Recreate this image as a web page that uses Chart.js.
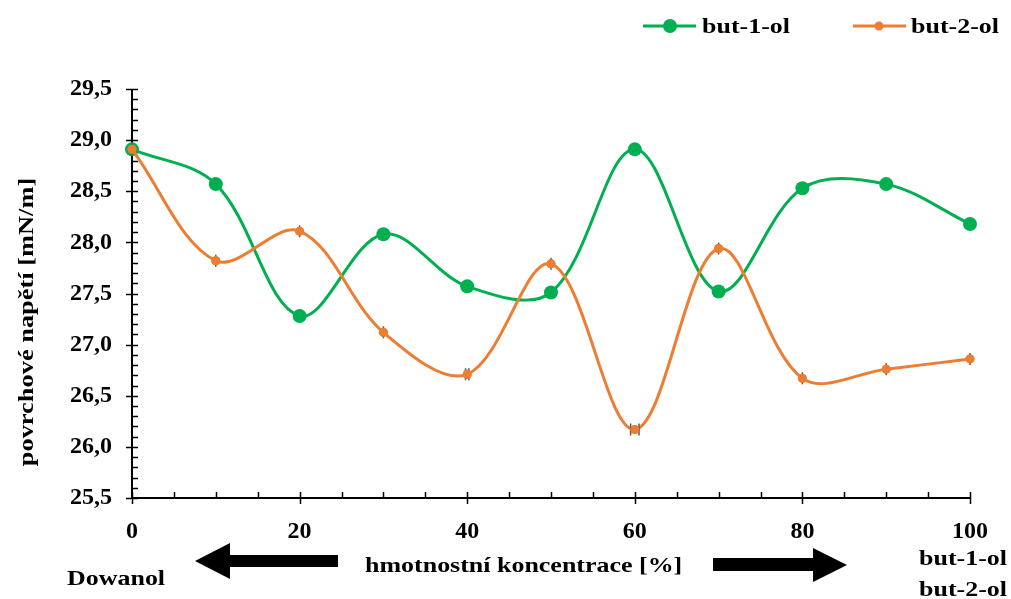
<!DOCTYPE html>
<html lang="cs">

<head>
    <meta charset="UTF-8">
    <meta name="viewport" content="width=device-width, initial-scale=1.0">
    <title>Povrchové napětí - butanoly</title>
    <script src="https://cdn.jsdelivr.net/npm/chart.js@4.4.1/dist/chart.umd.min.js"></script>
    <style>
        body {
            margin: 0;
            background: #fff;
        }

        .wrap {
            position: relative;
            width: 1011px;
            height: 599px;
        }

        .wrap svg {
            position: absolute;
            left: 0;
            top: 0;
            pointer-events: none;
        }

        .lbl {
            position: absolute;
            font: bold 22px "Liberation Serif", "Times New Roman", serif;
            line-height: 22px;
            white-space: nowrap;
            color: #000;
            transform-origin: 0 50%;
            transform: scaleX(1.18);
        }

        .ytitle {
            left: 26px;
            top: 322px;
            transform-origin: 50% 50%;
            transform: translate(-50%, -50%) rotate(-90deg) scaleX(1.2);
        }
    </style>
</head>

<body>
    <div class="wrap">
        <canvas id="chart" width="1011" height="599"></canvas>

        <!-- legend, arrows -->
        <svg width="1011" height="599">
            <line x1="643" y1="26" x2="696" y2="26" stroke="#00B050" stroke-width="3" />
            <circle cx="670" cy="26" r="7" fill="#00B050" />
            <line x1="853" y1="26" x2="906" y2="26" stroke="#ED7D31" stroke-width="3" />
            <circle cx="879" cy="26" r="4.5" fill="#ED7D31" />
            <polygon points="195,561 230,543 230,555 338,555 338,567 230,567 230,579" fill="#000" />
            <polygon points="713,558 813,558 813,548 847,565 813,582 813,571 713,571" fill="#000" />
        </svg>

        <div class="lbl" style="left:702px; top:15px;">but-1-ol</div>
        <div class="lbl" style="left:911px; top:15px;">but-2-ol</div>
        <div class="lbl ytitle">povrchové napětí [mN/m]</div>
        <div class="lbl" style="left:365px; top:554px;">hmotnostní koncentrace [%]</div>
        <div class="lbl" style="left:67px; top:567px;">Dowanol</div>
        <div class="lbl" style="left:919px; top:547px;">but-1-ol</div>
        <div class="lbl" style="left:919px; top:578px;">but-2-ol</div>
    </div>

    <script>
        // hmotnostní koncentrace [%]
        const conc = [0, 10, 20, 30, 40, 50, 60, 70, 80, 90, 100];
        // povrchové napětí [mN/m]
        const but1ol = [28.91, 28.57, 27.28, 28.08, 27.57, 27.51, 28.91, 27.52, 28.53, 28.57, 28.18];
        const but2ol = [28.91, 27.82, 28.11, 27.12, 26.71, 27.79, 26.17, 27.94, 26.67, 26.76, 26.86];
        // horizontal error bars of but-2-ol (concentration units)
        const but2olErr = [0, 0, 0, 0, 0.2, 0, 0.5, 0, 0, 0, 0];

        const yTicks = [25.5, 26.0, 26.5, 27.0, 27.5, 28.0, 28.5, 29.0, 29.5];
        const xTicks = [0, 20, 40, 60, 80, 100];

        const GREEN = '#00B050';
        const ORANGE = '#ED7D31';
        const FONT = { family: '"Liberation Serif", "Times New Roman", serif', size: 24, weight: 'bold' };

        function toPoints(values) {
            return conc.map((c, i) => ({ x: c, y: values[i] }));
        }

        // axis lines, crossing major ticks, inner minor ticks
        const axesPlugin = {
            id: 'axes',
            beforeDatasetsDraw(chart) {
                const { ctx, chartArea, scales } = chart;
                const x = scales.x;
                const y = scales.y;
                ctx.save();
                ctx.strokeStyle = '#000';
                ctx.lineWidth = 2;
                ctx.beginPath();
                ctx.moveTo(chartArea.left, chartArea.top);
                ctx.lineTo(chartArea.left, chartArea.bottom);
                ctx.lineTo(chartArea.right, chartArea.bottom);
                ctx.stroke();

                ctx.lineWidth = 1.5;
                ctx.beginPath();
                for (let v = 255; v <= 295; v++) {
                    const py = Math.round(y.getPixelForValue(v / 10)) + 0.5;
                    if (v % 5 === 0) {
                        ctx.moveTo(chartArea.left - 6, py);
                        ctx.lineTo(chartArea.left + 6, py);
                    } else {
                        ctx.moveTo(chartArea.left, py);
                        ctx.lineTo(chartArea.left + 6, py);
                    }
                }
                for (let v = 0; v <= 100; v += 5) {
                    const px = Math.round(x.getPixelForValue(v)) + 0.5;
                    if (v % 20 === 0) {
                        ctx.moveTo(px, chartArea.bottom - 6);
                        ctx.lineTo(px, chartArea.bottom + 6);
                    } else {
                        ctx.moveTo(px, chartArea.bottom);
                        ctx.lineTo(px, chartArea.bottom - 6);
                    }
                }
                ctx.stroke();
                ctx.restore();
            }
        };

        // grey error bars with caps for but-2-ol
        const errorBarPlugin = {
            id: 'errorBars',
            afterDatasetsDraw(chart) {
                const { ctx, scales } = chart;
                ctx.save();
                ctx.strokeStyle = '#595959';
                ctx.lineWidth = 1.5;
                ctx.beginPath();
                conc.forEach((c, i) => {
                    const py = scales.y.getPixelForValue(but2ol[i]);
                    const x1 = scales.x.getPixelForValue(c - but2olErr[i]);
                    const x2 = scales.x.getPixelForValue(c + but2olErr[i]);
                    ctx.moveTo(x1, py);
                    ctx.lineTo(x2, py);
                    ctx.moveTo(x1, py - 6);
                    ctx.lineTo(x1, py + 6);
                    ctx.moveTo(x2, py - 6);
                    ctx.lineTo(x2, py + 6);
                });
                ctx.stroke();
                ctx.restore();
            },
            afterDraw(chart) {
                // redraw orange markers on top of the bars
                const meta = chart.getDatasetMeta(1);
                const ctx = chart.ctx;
                ctx.save();
                ctx.fillStyle = ORANGE;
                meta.data.forEach(pt => {
                    ctx.beginPath();
                    ctx.arc(pt.x, pt.y, 4.5, 0, Math.PI * 2);
                    ctx.fill();
                });
                ctx.restore();
            }
        };

        new Chart(document.getElementById('chart'), {
            type: 'line',
            data: {
                datasets: [{
                    label: 'but-1-ol',
                    data: toPoints(but1ol),
                    borderColor: GREEN,
                    backgroundColor: GREEN,
                    borderWidth: 3,
                    pointRadius: 7,
                    pointBorderWidth: 0,
                    tension: 0.35,
                    clip: false,
                    order: 2
                }, {
                    label: 'but-2-ol',
                    data: toPoints(but2ol),
                    borderColor: ORANGE,
                    backgroundColor: ORANGE,
                    borderWidth: 3,
                    pointRadius: 4.5,
                    pointBorderWidth: 0,
                    tension: 0.35,
                    clip: false,
                    order: 1
                }]
            },
            options: {
                responsive: false,
                animation: false,
                layout: {
                    padding: { top: 89, right: 41, left: 0, bottom: 0 }
                },
                plugins: {
                    legend: { display: false },
                    tooltip: { enabled: false }
                },
                scales: {
                    x: {
                        type: 'linear',
                        min: 0,
                        max: 100,
                        afterFit: scale => { scale.height = 101; },
                        afterBuildTicks: scale => { scale.ticks = xTicks.map(v => ({ value: v })); },
                        grid: { display: false, drawTicks: false },
                        border: { display: false },
                        ticks: {
                            padding: 19,
                            color: '#000',
                            font: FONT,
                            maxRotation: 0
                        }
                    },
                    y: {
                        min: 25.5,
                        max: 29.5,
                        afterFit: scale => { scale.width = 132; },
                        afterBuildTicks: scale => { scale.ticks = yTicks.map(v => ({ value: v })); },
                        grid: { display: false, drawTicks: false },
                        border: { display: false },
                        ticks: {
                            padding: 20,
                            color: '#000',
                            font: FONT,
                            callback: v => v.toFixed(1).replace('.', ',')
                        }
                    }
                }
            },
            plugins: [axesPlugin, errorBarPlugin]
        });
    </script>
</body>

</html>
